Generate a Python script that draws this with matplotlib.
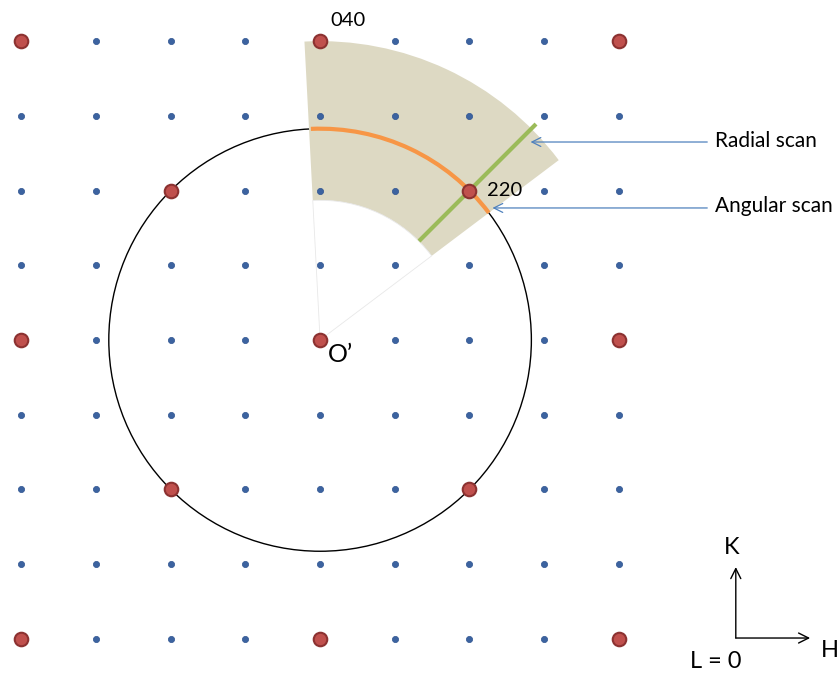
import numpy as np
import matplotlib.pyplot as plt
from matplotlib.patches import Wedge, Circle, Arc

plt.rcParams['font.family'] = ['Lato', 'DejaVu Sans']

# reciprocal lattice, h and k from -4 to 4
h_vals = [-4, -3, -2, -1, 0, 1, 2, 3, 4]
k_vals = [-4, -3, -2, -1, 0, 1, 2, 3, 4]
# allowed (strong) reflections
red_h = [-4, 0, 4, -4, 0, 4, -4, 0, 4, -2, 2, -2, 2]
red_k = [4, 4, 4, 0, 0, 0, -4, -4, -4, 2, 2, -2, -2]

circle_r = np.sqrt(8)          # |220|
sector_r = [1.87, 4.0]
sector_ang = [37, 93]
orange_ang = [37, 92.5]
green_ang = 45
green_r = [1.9, 4.06]

fig = plt.figure(figsize=(8.4, 6.75), dpi=100)
ax = fig.add_axes([0, 0, 1, 1])
ax.set_xlim(-4.281, 6.956)
ax.set_ylim(-4.485, 4.551)
ax.set_aspect('equal')
ax.axis('off')

ax.add_patch(Circle((0, 0), circle_r, fill=False, ec='black', lw=1, zorder=1))
ax.add_patch(Wedge((0, 0), sector_r[1], sector_ang[0], sector_ang[1],
                   width=sector_r[1] - sector_r[0], fc='#ddd9c3', ec='none', zorder=2))
ax.add_patch(Wedge((0, 0), sector_r[0], sector_ang[0], sector_ang[1],
                   fc='white', ec='#e8e8e8', lw=0.6, zorder=2))
ax.add_patch(Arc((0, 0), 2 * circle_r, 2 * circle_r, theta1=orange_ang[0],
                 theta2=orange_ang[1], color='#f79646', lw=3, zorder=3))
ga = np.deg2rad(green_ang)
ax.plot([green_r[0] * np.cos(ga), green_r[1] * np.cos(ga)],
        [green_r[0] * np.sin(ga), green_r[1] * np.sin(ga)],
        color='#9bbb59', lw=3, zorder=3)

H, K = np.meshgrid(h_vals, k_vals)
ax.scatter(H.ravel(), K.ravel(), s=20, c='#3c63a0', ec='#2f5490', lw=0.5, zorder=4)
ax.scatter(red_h, red_k, s=95, c='#c0504d', ec='#8c3231', lw=1.5, zorder=5)

ax.text(0.38, 4.28, '040', fontsize=14.5, ha='center', va='center')
ax.text(2.23, 2.0, '220', fontsize=14.5, ha='left', va='center')
ax.text(0.1, -0.2, 'O\u2019', fontsize=18, ha='left', va='center')

arrow_kw = dict(arrowstyle='->', color='#4f81bd', lw=0.9, mutation_scale=16)
ax.annotate('', xy=(2.78, 2.65), xytext=(5.22, 2.65), arrowprops=arrow_kw)
ax.annotate('', xy=(2.27, 1.767), xytext=(5.22, 1.767), arrowprops=arrow_kw)
ax.text(5.29, 2.67, 'Radial scan', fontsize=15, ha='left', va='center')
ax.text(5.29, 1.79, 'Angular scan', fontsize=15, ha='left', va='center')

axis_kw = dict(arrowstyle='->', color='black', lw=1, mutation_scale=18,
               shrinkA=0, shrinkB=0)
ax.annotate('', xy=(5.565, -3.04), xytext=(5.565, -3.99), arrowprops=axis_kw)
ax.annotate('', xy=(6.56, -3.99), xytext=(5.565, -3.99), arrowprops=axis_kw)
ax.text(5.51, -2.78, 'K', fontsize=17, ha='center', va='center')
ax.text(6.82, -4.16, 'H', fontsize=17, ha='center', va='center')
ax.text(5.3, -4.31, 'L = 0', fontsize=17, ha='center', va='center')

fig.savefig('out.png', dpi=100)
